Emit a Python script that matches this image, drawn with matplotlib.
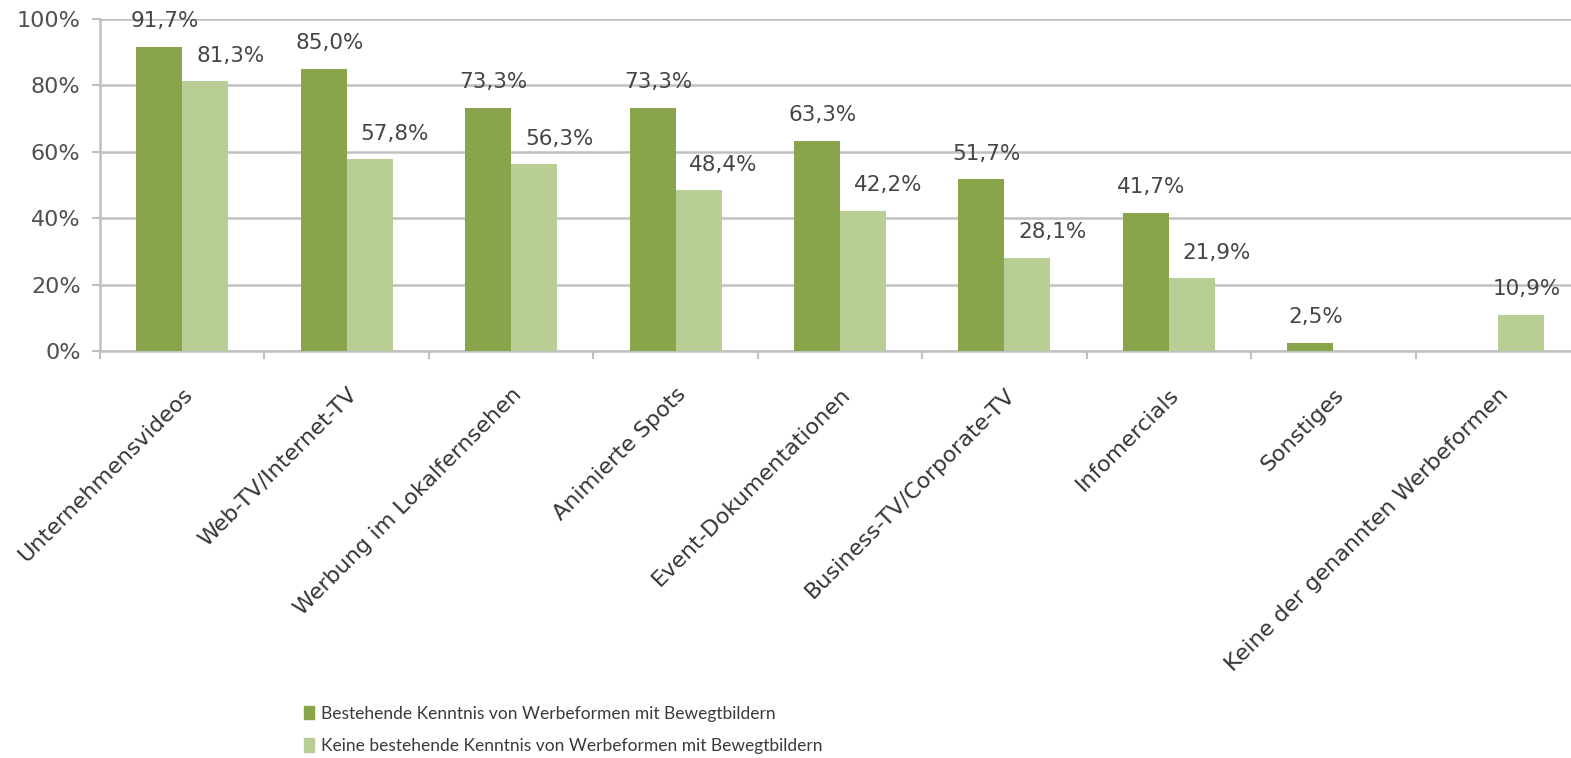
import numpy as np
import matplotlib
matplotlib.use("Agg")
import matplotlib.pyplot as plt
from matplotlib.patches import Patch

plt.rcParams["font.family"] = ["DejaVu Sans"]

categories = ["Unternehmensvideos", "Web-TV/Internet-TV", "Werbung im Lokalfernsehen",
              "Animierte Spots", "Event-Dokumentationen", "Business-TV/Corporate-TV",
              "Infomercials", "Sonstiges", "Keine der genannten Werbeformen"]
known = [91.7, 85.0, 73.3, 73.3, 63.3, 51.7, 41.7, 2.5, np.nan]
not_known = [81.3, 57.8, 56.3, 48.4, 42.2, 28.1, 21.9, np.nan, 10.9]
series_names = ["Bestehende Kenntnis von Werbeformen mit Bewegtbildern",
                "Keine bestehende Kenntnis von Werbeformen mit Bewegtbildern"]
yticks = [0, 20, 40, 60, 80, 100]

DARK = "#88A54B"
LIGHT = "#B8CE94"
GRID = "#C0C0C0"
TXT = "#454545"

fig = plt.figure(figsize=(15.71, 7.58), dpi=100)
ax = fig.add_axes([100 / 1571, 407 / 758, 1480 / 1571, 332 / 758])

x = np.arange(len(categories))
w = 0.28
ax.bar(x - w / 2, known, w, color=DARK, zorder=3)
ax.bar(x + w / 2, not_known, w, color=LIGHT, zorder=3)

# value labels, German decimal comma
labels = []
def label(xs, vals, dx):
    for xi, v in zip(xs, vals):
        if not np.isnan(v):
            t = ax.annotate(f"{v:.1f}%".replace(".", ","), (xi, v),
                            xytext=(dx, 14), textcoords="offset points",
                            ha="center", va="baseline", fontsize=15.5, color=TXT,
                            annotation_clip=False)
            labels.append(t)

label(x - w / 2, known, 4)
label(x + w / 2, not_known, 18)

ax.set_xlim(-0.5, len(categories) - 0.5)
ax.set_ylim(0, 100)
ax.set_yticks(yticks)
ax.set_yticklabels([f"{t}%" for t in yticks], fontsize=16, color="#505050")
ax.yaxis.grid(True, color=GRID, linewidth=1.8, zorder=0)
ax.tick_params(axis="y", length=6, width=1.5, color=GRID, pad=8)

ax.set_xticks(x)
ax.set_xticklabels(categories, rotation=45, ha="right", rotation_mode="anchor",
                   fontsize=16, color="#353535")
ax.set_xticks(np.arange(len(categories) + 1) - 0.5, minor=True)
ax.tick_params(axis="x", which="major", length=0, pad=24)
ax.tick_params(axis="x", which="minor", length=6, width=1.5, color=GRID)

for s in ["top", "right"]:
    ax.spines[s].set_visible(False)
for s in ["left", "bottom"]:
    ax.spines[s].set_color(GRID)
    ax.spines[s].set_linewidth(1.8)

handles = [Patch(color=DARK), Patch(color=LIGHT)]
fig.legend(handles, series_names, loc="upper left",
           bbox_to_anchor=(288 / 1571, 1 - 690 / 758),
           frameon=False, handlelength=0.6, handleheight=0.8,
           handletextpad=0.4, labelspacing=0.95, labelcolor="#3A3A3A",
           prop={"family": ["Lato", "DejaVu Sans"], "size": 12.5})

# keep labels inside the figure (like Excel does at the chart edge)
fig.canvas.draw()
r = fig.canvas.get_renderer()
for t in labels:
    bb = t.get_window_extent(r)
    over = bb.x1 - (fig.bbox.width - 10)
    if over > 0:
        dx, dy = t.get_position()
        t.set_position((dx - over * 72 / fig.dpi, dy))

fig.savefig("out.png", dpi=100, facecolor="white")
